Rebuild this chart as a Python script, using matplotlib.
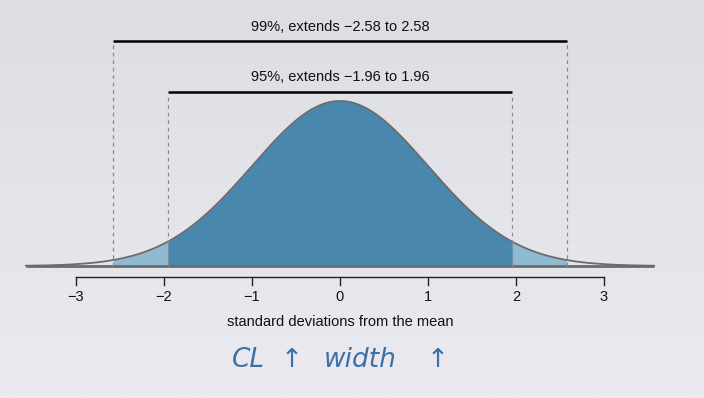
import numpy as np
import matplotlib
matplotlib.use("Agg")
import matplotlib.pyplot as plt
from matplotlib.colors import to_rgb

# ---- data ----
tick_values = [-3, -2, -1, 0, 1, 2, 3]
tick_labels = ["\u22123", "\u22122", "\u22121", "0", "1", "2", "3"]
ci_names = ["99%", "95%"]
ci_z = [2.58, 1.96]
bar_heights = [0.544, 0.421]
curve_range = [-3.57, 3.57]
xlabel_text = "standard deviations from the mean"
note_parts = ["CL", "\u2191", "width", "\u2191"]
note_x = [-1.04, -0.55, 0.23, 1.11]

# ---- style ----
bg_top = "#dddde4"
bg_bottom = "#ebeaf1"
bg = "#e6e6ec"
dark_blue = "#4a87ad"
light_blue = "#8fbbd2"
curve_col = "#6b6b6e"
font = ["Liberation Sans", "DejaVu Sans"]

fig = plt.figure(figsize=(7.04, 3.98), dpi=100, facecolor=bg)
ax = fig.add_axes([0, 0, 1, 1])
xlim = (-340 / 88, 364 / 88)
ylim = (-132 / 413.6, 266 / 413.6)
ax.set_xlim(*xlim)
ax.set_ylim(*ylim)
ax.axis("off")

# background gradient
c0 = np.array(to_rgb(bg_top))
c1 = np.array(to_rgb(bg_bottom))
tgrad = np.linspace(0, 1, 256)[:, None]
grad = (c0[None, :] * (1 - tgrad) + c1[None, :] * tgrad)[:, None, :]
ax.imshow(grad, extent=[xlim[0], xlim[1], ylim[0], ylim[1]], origin="upper",
          aspect="auto", zorder=0, interpolation="bilinear")

x = np.linspace(curve_range[0], curve_range[1], 1200)
pdf = np.exp(-x ** 2 / 2) / np.sqrt(2 * np.pi)

z99, z95 = ci_z
m_outer = (np.abs(x) <= z99 + 1e-9)
ax.fill_between(x, 0, pdf, where=m_outer, color=light_blue, lw=0, zorder=2)
m_inner = (np.abs(x) <= z95)
ax.fill_between(x, 0, pdf, where=m_inner, color=dark_blue, lw=0, zorder=2)
ax.plot(x, pdf, color=curve_col, lw=1.3, zorder=3)
ax.plot(curve_range, [0, 0], color=curve_col, lw=2.0, solid_capstyle="butt", zorder=3)

# brackets
for name, z, h in zip(ci_names, ci_z, bar_heights):
    ax.plot([-z, z], [h, h], color="black", lw=1.8, solid_capstyle="butt", zorder=4)
    for s in (-z, z):
        ax.plot([s, s], [0, h], color="#8a8a8e", lw=0.9, ls=(0, (3, 3)), zorder=4)
    ax.text(0, h + 0.018, f"{name}, extends \u2212{z:.2f} to {z:.2f}",
            ha="center", va="bottom", fontsize=10.5, family=font, color="#111111")

# x axis
y_axis = -11 / 413.6
ax.plot([tick_values[0], tick_values[-1]], [y_axis, y_axis], color="#222222", lw=1.0)
for t, lab in zip(tick_values, tick_labels):
    ax.plot([t, t], [y_axis, y_axis - 8 / 413.6], color="#222222", lw=1.0)
    ax.text(t, y_axis - 13 / 413.6, lab, ha="center", va="top", fontsize=10.5,
            family=font, color="#111111")
ax.text(0, -49 / 413.6, xlabel_text, ha="center", va="top", fontsize=10.5,
        family=font, color="#111111")

# handwritten note
for part, px in zip(note_parts, note_x):
    ax.text(px, -94 / 413.6, part, ha="center", va="center", fontsize=19,
            family=["DejaVu Sans"], style="italic", fontweight="light",
            color="#3b72a3")

fig.savefig("out.png", dpi=100, facecolor=bg)
